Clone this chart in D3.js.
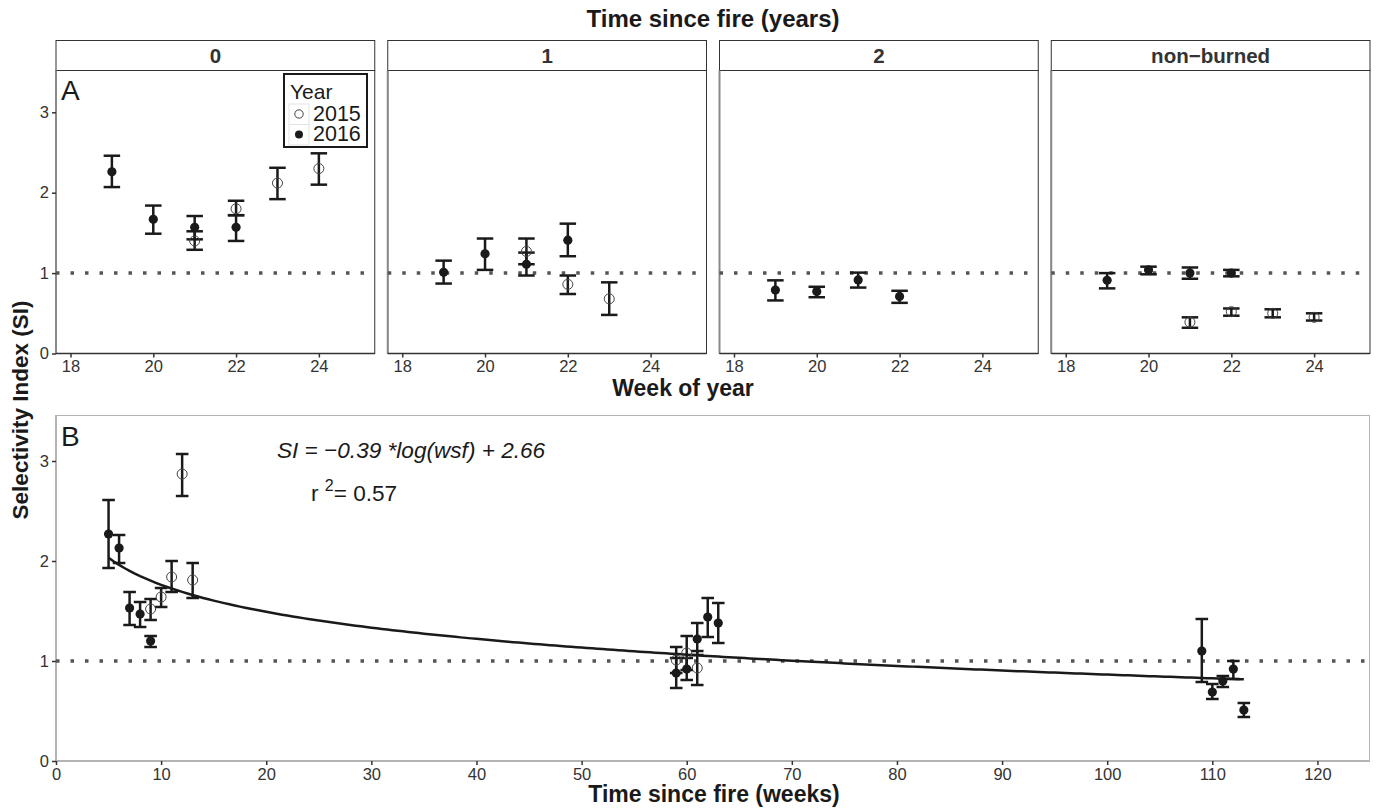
<!DOCTYPE html>
<html>
<head>
<meta charset="utf-8">
<script src="https://cdn.jsdelivr.net/npm/d3@7"></script>
<style>
	body { margin: 0; background: #fff; }
	svg { font-family: 'Liberation Sans', Arial, Helvetica, sans-serif; }
</style>
</head>
<body>
<div id="chart"></div>
<script>
// facets of panel A
const facets = ['0', '1', '2', 'non\u2212burned'];
const weekTicks = [18, 20, 22, 24];
const siTicksTop = [0, 1, 2, 3];

// panel A data, one array per facet and year
const f0_2015 = { week: [21, 22, 23, 24], si: [1.40, 1.80, 2.12, 2.30], lo: [1.29, 1.72, 1.92, 2.10], hi: [1.52, 1.90, 2.31, 2.49] };
const f0_2016 = { week: [19, 20, 21, 22], si: [2.26, 1.67, 1.57, 1.57], lo: [2.07, 1.49, 1.42, 1.40], hi: [2.46, 1.84, 1.71, 1.72] };
const f1_2015 = { week: [21, 22, 23], si: [1.27, 0.86, 0.68], lo: [1.11, 0.74, 0.48], hi: [1.43, 0.97, 0.885] };
const f1_2016 = { week: [19, 20, 21, 22], si: [1.01, 1.24, 1.11, 1.41], lo: [0.87, 1.04, 0.97, 1.21], hi: [1.155, 1.43, 1.255, 1.615] };
const f2_2015 = { week: [], si: [], lo: [], hi: [] };
const f2_2016 = { week: [19, 20, 21, 22], si: [0.79, 0.77, 0.915, 0.71], lo: [0.66, 0.70, 0.82, 0.63], hi: [0.91, 0.83, 1.006, 0.78] };
const nb_2015 = { week: [21, 22, 23, 24], si: [0.39, 0.52, 0.50, 0.45], lo: [0.32, 0.47, 0.45, 0.41], hi: [0.45, 0.56, 0.55, 0.50] };
const nb_2016 = { week: [19, 20, 21, 22], si: [0.91, 1.04, 1.00, 1.00], lo: [0.81, 0.985, 0.93, 0.96], hi: [1.00, 1.08, 1.07, 1.04] };

// panel B data: weeks since fire
const wsfTicks = [0, 10, 20, 30, 40, 50, 60, 70, 80, 90, 100, 110, 120];
const siTicksBottom = [0, 1, 2, 3];
const b_2015 = {
	week: [9, 10, 11, 12, 13, 59, 60, 61],
	si: [1.52, 1.64, 1.84, 2.87, 1.81, 1.01, 1.08, 0.93],
	lo: [1.41, 1.54, 1.69, 2.65, 1.63, 0.88, 0.91, 0.76],
	hi: [1.62, 1.73, 2.00, 3.07, 1.98, 1.14, 1.25, 1.10]
};
const b_2016 = {
	week: [5, 6, 7, 8, 9, 59, 60, 61, 62, 63, 109, 110, 111, 112, 113],
	si: [2.27, 2.13, 1.53, 1.47, 1.20, 0.88, 0.92, 1.22, 1.44, 1.38, 1.10, 0.69, 0.80, 0.92, 0.51],
	lo: [1.93, 1.98, 1.36, 1.34, 1.14, 0.73, 0.81, 1.06, 1.24, 1.18, 0.79, 0.62, 0.74, 0.82, 0.44],
	hi: [2.61, 2.26, 1.69, 1.59, 1.25, 1.03, 1.03, 1.38, 1.63, 1.58, 1.42, 0.77, 0.85, 1.00, 0.58]
};

// fitted model shown in panel B
const fitSlope = -0.39;
const fitIntercept = 2.66;
const fitRange = [5, 113];

const facetData = [[f0_2015, f0_2016], [f1_2015, f1_2016], [f2_2015, f2_2016], [nb_2015, nb_2016]];

const W = 1377, H = 810;
const ink = '#1a1a1a';
const tickColor = '#333';
const fmt = d3.format('d');

const svg = d3.select('#chart').append('svg')
	.attr('width', W)
	.attr('height', H);

const toRows = (s) => s.week.map((w, i) => ({ x: w, y: s.si[i], lo: s.lo[i], hi: s.hi[i] }));

const styleAxis = (ax) => {
	ax.select('.domain').remove();
	ax.selectAll('line').attr('stroke', tickColor).attr('stroke-width', 1.5);
	ax.selectAll('text').attr('fill', tickColor).style('font-size', '16.5px');
};

const drawSeries = (g, rows, xScale, yScale, capW, open) => {
	const bars = g.append('g');
	bars.selectAll('line.v').data(rows).enter().append('line')
		.attr('x1', d => xScale(d.x)).attr('x2', d => xScale(d.x))
		.attr('y1', d => yScale(d.lo)).attr('y2', d => yScale(d.hi))
		.attr('stroke', ink).attr('stroke-width', 2.5);
	['lo', 'hi'].forEach(k => {
		bars.selectAll('line.' + k).data(rows).enter().append('line')
			.attr('x1', d => xScale(d.x) - capW / 2).attr('x2', d => xScale(d.x) + capW / 2)
			.attr('y1', d => yScale(d[k])).attr('y2', d => yScale(d[k]))
			.attr('stroke', ink).attr('stroke-width', 2.5);
	});
	g.append('g').selectAll('circle').data(rows).enter().append('circle')
		.attr('cx', d => xScale(d.x))
		.attr('cy', d => yScale(d.y))
		.attr('r', open ? 5 : 4.6)
		.attr('fill', open ? 'none' : ink)
		.attr('stroke', open ? '#444' : 'none')
		.attr('stroke-width', 1);
};

// ---- panel A ----
const topY = 70.5, topBottom = 353.5;
const panelLeft = 56, panelRight = 1370, gap = 13;
const panelW = (panelRight - panelLeft - 3 * gap) / 4;

const yTop = d3.scaleLinear().domain([0, 3.52]).range([topBottom, topY]);

facets.forEach((name, i) => {
	const x0 = panelLeft + i * (panelW + gap);
	const xScale = d3.scaleLinear().domain([17.65, 25.35]).range([x0, x0 + panelW]);
	const g = svg.append('g');

	// strip
	g.append('rect')
		.attr('x', x0).attr('y', 40.5).attr('width', panelW).attr('height', 30)
		.attr('fill', '#fff').attr('stroke', '#333').attr('stroke-width', 1);
	g.append('text')
		.attr('x', x0 + panelW / 2).attr('y', 63)
		.attr('text-anchor', 'middle')
		.attr('fill', '#333')
		.style('font-size', '20.5px').style('font-weight', 'bold')
		.text(name);

	// panel box
	g.append('rect')
		.attr('x', x0).attr('y', topY).attr('width', panelW).attr('height', topBottom - topY)
		.attr('fill', '#fff').attr('stroke', '#333').attr('stroke-width', 1);
	g.append('line')
		.attr('x1', x0).attr('x2', x0).attr('y1', topY).attr('y2', topBottom)
		.attr('stroke', '#8a8a8a').attr('stroke-width', 2);
	g.append('line')
		.attr('x1', x0).attr('x2', x0 + panelW).attr('y1', topBottom).attr('y2', topBottom)
		.attr('stroke', '#333').attr('stroke-width', 1.5);

	// reference line SI = 1
	g.append('line')
		.attr('x1', x0).attr('x2', x0 + panelW)
		.attr('y1', yTop(1)).attr('y2', yTop(1))
		.attr('stroke', '#555').attr('stroke-width', 3.5)
		.attr('stroke-dasharray', '3.5 11');

	const xAxis = d3.axisBottom(xScale).tickValues(weekTicks).tickFormat(fmt).tickSize(4).tickPadding(3);
	styleAxis(g.append('g').attr('transform', `translate(0,${topBottom})`).call(xAxis));

	if (i === 0) {
		const yAxis = d3.axisLeft(yTop).tickValues(siTicksTop).tickFormat(fmt).tickSize(4).tickPadding(3);
		styleAxis(g.append('g').attr('transform', `translate(${x0},0)`).call(yAxis));
		g.append('text').attr('x', x0 + 5).attr('y', topY + 29)
			.style('font-size', '28px').attr('fill', ink).text('A');
	}

	const [s2015, s2016] = facetData[i];
	drawSeries(g, toRows(s2016), xScale, yTop, 16.5, false);
	drawSeries(g, toRows(s2015), xScale, yTop, 16.5, true);
});

// legend
const leg = svg.append('g').attr('transform', 'translate(284,74)');
leg.append('rect').attr('x', 0).attr('y', 0).attr('width', 83).attr('height', 73)
	.attr('fill', '#fff').attr('stroke', ink).attr('stroke-width', 2);
leg.append('text').attr('x', 6).attr('y', 25).style('font-size', '21px').attr('fill', ink).text('Year');
['2015', '2016'].forEach((yr, i) => {
	const ky = 30 + i * 20.5;
	leg.append('rect').attr('x', 5).attr('y', ky).attr('width', 20).attr('height', 20.5)
		.attr('fill', '#fff').attr('stroke', '#e3e3e3').attr('stroke-width', 1);
	leg.append('circle').attr('cx', 15).attr('cy', ky + 10).attr('r', i ? 4 : 4.2)
		.attr('fill', i ? ink : 'none').attr('stroke', i ? 'none' : '#444').attr('stroke-width', 1);
	leg.append('text').attr('x', 29).attr('y', ky + 16.5).style('font-size', '21.5px').attr('fill', ink).text(yr);
});

// ---- panel B ----
const bx = d3.scaleLinear().domain([0, 125]).range([56, 1370]);
const by = d3.scaleLinear().domain([0, 3.46]).range([761, 415]);
const gb = svg.append('g');

gb.append('rect')
	.attr('x', 56.5).attr('y', 415.5).attr('width', 1313).attr('height', 345)
	.attr('fill', '#fff').attr('stroke', '#b3b3b3').attr('stroke-width', 1);
gb.append('line')
	.attr('x1', 56).attr('x2', 56).attr('y1', 415).attr('y2', 761)
	.attr('stroke', '#b3b3b3').attr('stroke-width', 2);
gb.append('line')
	.attr('x1', 56).attr('x2', 1370).attr('y1', 761).attr('y2', 761)
	.attr('stroke', '#b3b3b3').attr('stroke-width', 2);

gb.append('line')
	.attr('x1', 56).attr('x2', 1370)
	.attr('y1', by(1)).attr('y2', by(1))
	.attr('stroke', '#555').attr('stroke-width', 3.5)
	.attr('stroke-dasharray', '3.5 11');

const bxAxis = d3.axisBottom(bx).tickValues(wsfTicks).tickFormat(fmt).tickSize(4).tickPadding(3);
styleAxis(gb.append('g').attr('transform', 'translate(0,761)').call(bxAxis));

const byAxis = d3.axisLeft(by).tickValues(siTicksBottom).tickFormat(fmt).tickSize(4).tickPadding(3);
styleAxis(gb.append('g').attr('transform', 'translate(56,0)').call(byAxis));

// fitted curve
const fitWeeks = d3.range(fitRange[0], fitRange[1] + 0.01, 0.5);
const curve = d3.line()
	.x(w => bx(w))
	.y(w => by(fitSlope * Math.log(w) + fitIntercept));
gb.append('path').datum(fitWeeks)
	.attr('d', curve)
	.attr('fill', 'none').attr('stroke', ink).attr('stroke-width', 2.5);

drawSeries(gb, toRows(b_2016), bx, by, 12.6, false);
drawSeries(gb, toRows(b_2015), bx, by, 12.6, true);

gb.append('text').attr('x', 61).attr('y', 446)
	.style('font-size', '28px').attr('fill', ink).text('B');

gb.append('text').attr('x', 277).attr('y', 458)
	.style('font-size', '22.6px').style('font-style', 'italic').attr('fill', ink)
	.text(`SI = \u2212${Math.abs(fitSlope).toFixed(2)} *log(wsf) + ${fitIntercept.toFixed(2)}`);
const r2 = gb.append('text').attr('x', 311).attr('y', 501)
	.style('font-size', '22.6px').attr('fill', ink);
r2.append('tspan').text('r ');
r2.append('tspan').attr('dy', -10).style('font-size', '16px').text('2');
r2.append('tspan').attr('dy', 10).text('= 0.57');

// titles
const title = (txt, x, y, size, rot) => {
	const t = svg.append('text')
		.attr('text-anchor', 'middle')
		.attr('fill', ink)
		.style('font-size', size + 'px').style('font-weight', 'bold')
		.text(txt);
	if (rot) t.attr('transform', `translate(${x},${y}) rotate(-90)`);
	else t.attr('x', x).attr('y', y);
};
title('Time since fire (years)', 713, 27, 24);
title('Week of year', 683, 396, 23);
title('Time since fire (weeks)', 714, 802, 23);
title('Selectivity Index (SI)', 28, 410, 22.5, true);
</script>
</body>
</html>
